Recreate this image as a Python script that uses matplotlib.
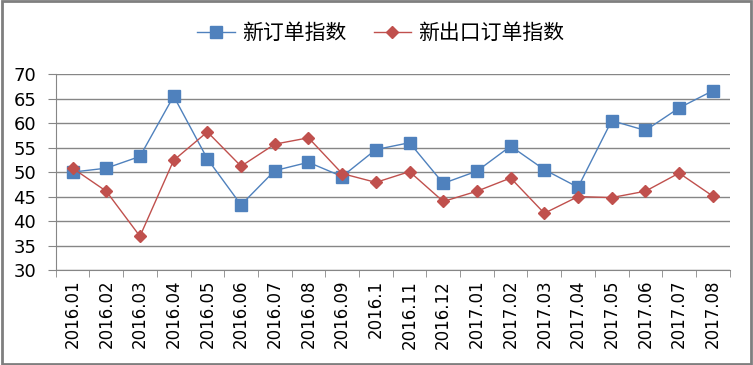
import matplotlib.pyplot as plt
from matplotlib.patches import Rectangle

plt.rcParams['font.family'] = ['Noto Sans CJK SC', 'DejaVu Sans']

# Data
months = ['2016.01', '2016.02', '2016.03', '2016.04', '2016.05', '2016.06',
          '2016.07', '2016.08', '2016.09', '2016.1', '2016.11', '2016.12',
          '2017.01', '2017.02', '2017.03', '2017.04', '2017.05', '2017.06',
          '2017.07', '2017.08']
new_orders = [50.0, 50.8, 53.2, 65.5, 52.7, 43.3, 50.3, 52.0, 49.1, 54.6,
              56.0, 47.7, 50.2, 55.3, 50.5, 46.9, 60.5, 58.5, 63.1, 66.6]
new_export_orders = [50.8, 46.1, 36.9, 52.4, 58.2, 51.2, 55.7, 57.0, 49.7, 47.9,
                     50.1, 44.0, 46.1, 48.8, 41.6, 45.0, 44.8, 46.1, 49.8, 45.1]

blue = '#4F81BD'
red = '#C0504D'
grid = '#868686'

fig = plt.figure(figsize=(7.53, 3.65), dpi=100)
ax = fig.add_axes([0.074, 0.260, 0.895, 0.537])

x = range(len(months))
ax.plot(x, new_orders, color=blue, lw=1, marker='s', ms=8.5, mec=blue,
        label='新订单指数')
ax.plot(x, new_export_orders, color=red, lw=1, marker='D', ms=6, mec=red,
        label='新出口订单指数')

ax.set_ylim(30, 70)
ax.set_yticks(range(30, 71, 5))
ax.set_xlim(-0.5, len(months) - 0.5)
ax.set_xticks(x)
ax.set_xticklabels(months, rotation=90, family='DejaVu Sans', fontsize=12)
for lab in ax.get_yticklabels():
    lab.set_family('DejaVu Sans')
    lab.set_fontsize(13)

# category boundary ticks on the x axis
ax.set_xticks([i - 0.5 for i in range(len(months) + 1)], minor=True)
ax.tick_params(axis='x', which='major', length=0, pad=7)
ax.tick_params(axis='x', which='minor', length=5, color=grid)
ax.tick_params(axis='y', length=6, color=grid, pad=8)

ax.grid(axis='y', color=grid, lw=1)
ax.set_axisbelow(True)
for side in ['top', 'right']:
    ax.spines[side].set_visible(False)
ax.spines['left'].set_color(grid)
ax.spines['bottom'].set_color(grid)

fig.legend(loc='upper center', bbox_to_anchor=(0.506, 0.99), ncol=2,
           frameon=False, fontsize=15, handlelength=1.8, handletextpad=0.35,
           columnspacing=1.3)

fig.patches.append(Rectangle((0.003, 0.004), 0.994, 0.992, transform=fig.transFigure,
                             fill=False, edgecolor='#7F7F7F', lw=2))

fig.savefig('out.png', dpi=100)
